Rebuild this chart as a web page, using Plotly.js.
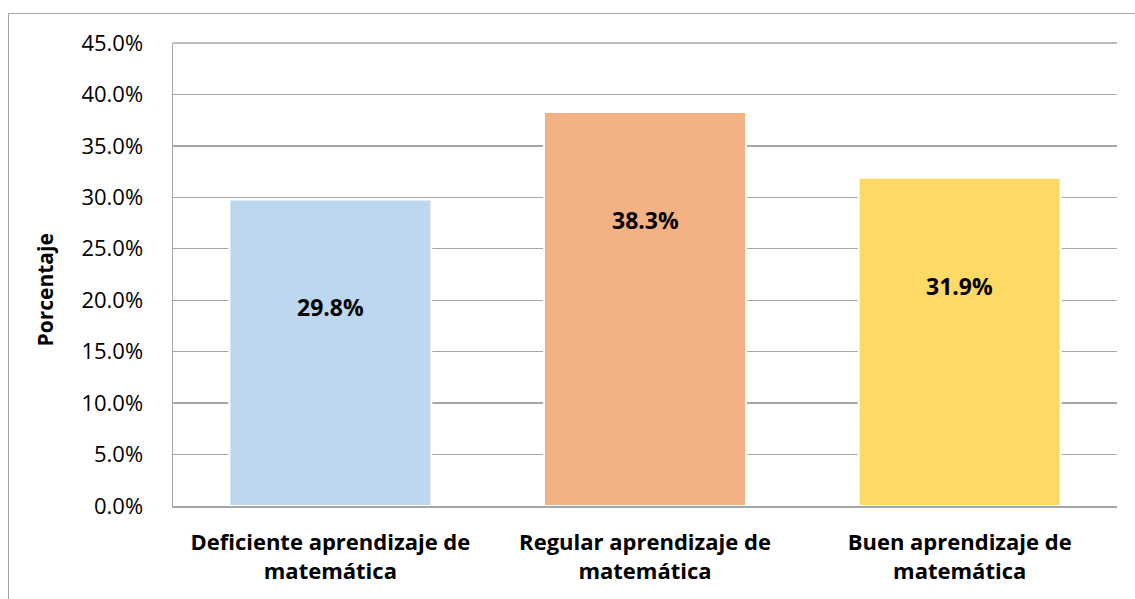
<!DOCTYPE html>
<html>
<head>
<meta charset="utf-8">
<script src="https://cdn.plot.ly/plotly-3.0.1.min.js"></script>
<style>
  html, body { margin: 0; padding: 0; background: #ffffff; }
  #wrap { position: relative; width: 1135px; height: 599px; overflow: hidden; }
  #chart { width: 1135px; height: 599px; }
  #frame { position: absolute; left: 8px; top: 13px; width: 1140px; height: 620px;
           border: 1.5px solid #A6A6A6; pointer-events: none; box-sizing: border-box; }
</style>
</head>
<body>
<div id="wrap">
  <div id="chart"></div>
  <div id="frame"></div>
</div>
<script>
const categories = [
  "Deficiente aprendizaje de<br>matemática",
  "Regular aprendizaje de<br>matemática",
  "Buen aprendizaje de<br>matemática"
];
const values = [29.8, 38.3, 31.9];
const barColors = ["#BDD7EE", "#F4B183", "#FFD966"];
const yTickValues = [0, 5, 10, 15, 20, 25, 30, 35, 40, 45];
const yTitle = "Porcentaje";

const FONT = "'Open Sans', 'Liberation Sans', sans-serif";

const trace = {
  type: "bar",
  x: categories,
  y: values,
  marker: { color: barColors, line: { color: "#ffffff", width: 2 } },
  hoverinfo: "skip",
  textposition: "none"
};

const annotations = categories.map((c, i) => ({
  x: c,
  y: values[i],
  xref: "x",
  yref: "y",
  text: "<b>" + values[i].toFixed(1) + "%</b>",
  showarrow: false,
  yanchor: "middle",
  yshift: -108,
  font: { family: FONT, size: 23, color: "#000000" }
}));

annotations.push({
  xref: "paper", yref: "paper",
  x: 0, y: 0.5,
  xanchor: "center", yanchor: "middle",
  xshift: -129, yshift: -16,
  textangle: -90,
  showarrow: false,
  text: "<b>" + yTitle + "</b>",
  font: { family: FONT, size: 21, color: "#000000" }
});

const layout = {
  width: 1135,
  height: 599,
  margin: { l: 173, r: 18, t: 43, b: 93 },
  paper_bgcolor: "#ffffff",
  plot_bgcolor: "#ffffff",
  bargap: 0.358,
  showlegend: false,
  font: { family: FONT, color: "#000000" },
  xaxis: {
    type: "category",
    showgrid: false,
    showline: true,
    linecolor: "#A6A6A6",
    linewidth: 1.5,
    ticks: "",
    ticklabelstandoff: 16,
    tickfont: { family: FONT, size: 22, color: "#000000", weight: "bold" }
  },
  yaxis: {
    range: [0, 45],
    tickvals: yTickValues,
    ticktext: yTickValues.map(v => v.toFixed(1) + "%"),
    showgrid: true,
    gridcolor: "#A6A6A6",
    gridwidth: 1.3,
    zeroline: false,
    showline: true,
    linecolor: "#A6A6A6",
    linewidth: 1.5,
    ticks: "",
    ticklabelstandoff: 24,
    tickfont: { family: FONT, size: 22, color: "#000000" }
  },
  shapes: [{
    type: "line", xref: "paper", yref: "paper",
    x0: 0, x1: 1, y0: 1, y1: 1,
    line: { color: "#A6A6A6", width: 1.3 },
    layer: "below"
  }],
  annotations: annotations
};

Plotly.newPlot("chart", [trace], layout, { displayModeBar: false, staticPlot: true });
</script>
</body>
</html>
